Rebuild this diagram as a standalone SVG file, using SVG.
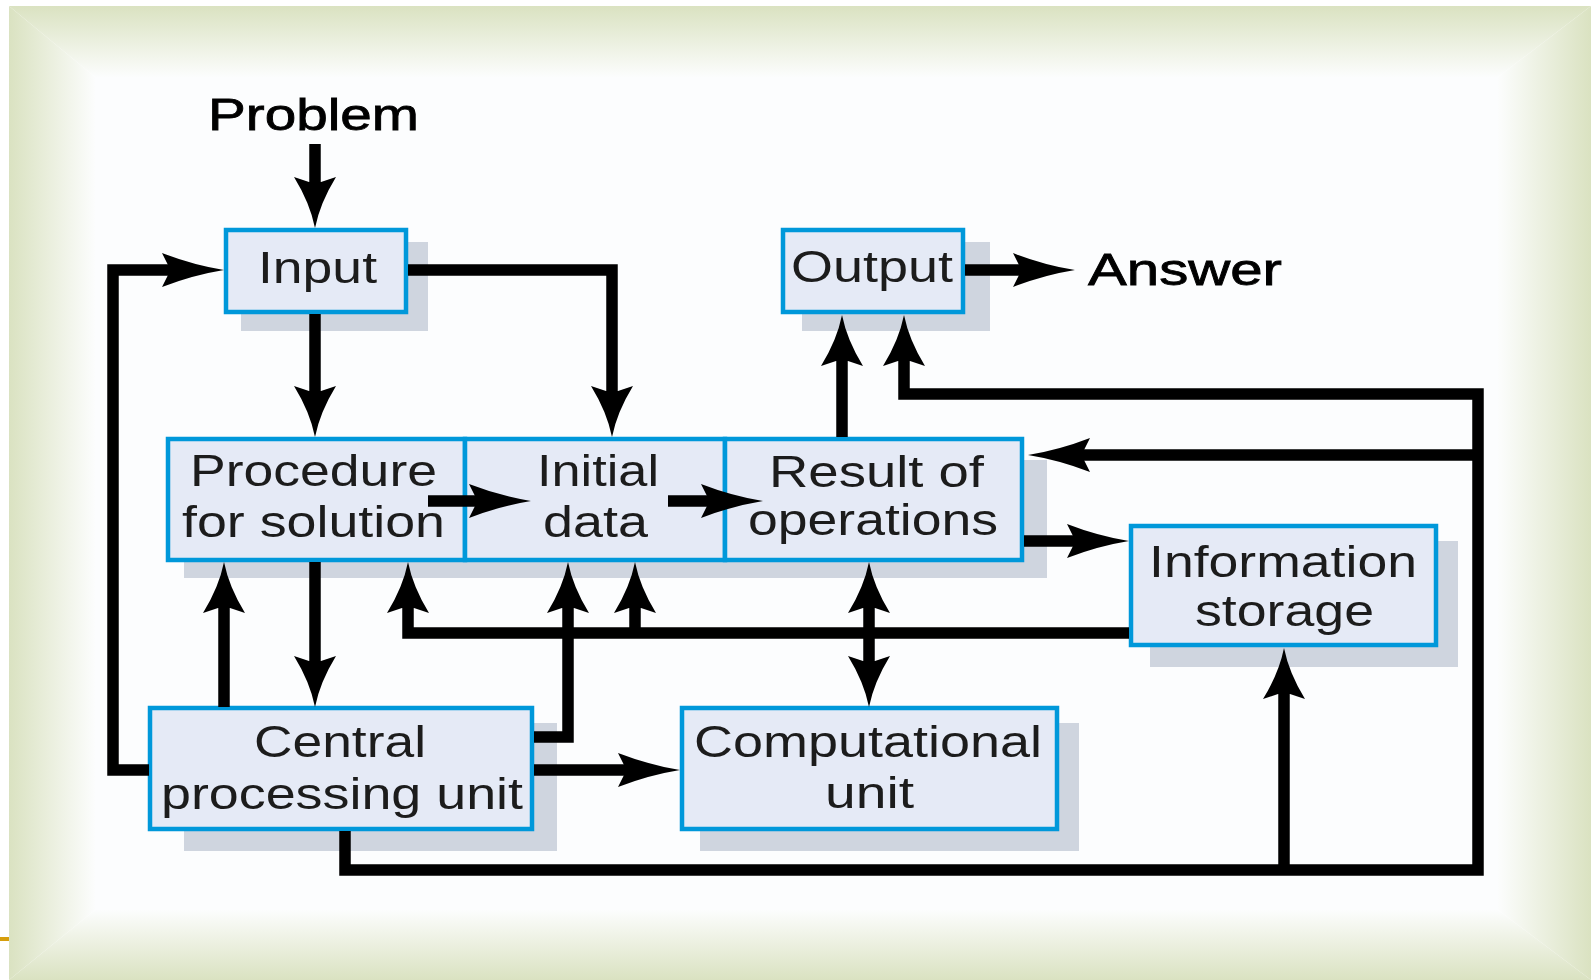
<svg xmlns="http://www.w3.org/2000/svg" width="1591" height="980" viewBox="0 0 1591 980">
<style>
.box{fill:#e5eaf6;stroke:#0098da;stroke-width:4.5}
.sh{fill:#cfd5df}
.t{font-family:"Liberation Sans",Arial,sans-serif;font-size:45px;fill:#1c1c1c}
.lbl{font-family:"Liberation Sans",Arial,sans-serif;font-size:45px;fill:#000;stroke:#000;stroke-width:0.8}
.c{fill:none;stroke:#000;stroke-width:11.5;stroke-linejoin:miter}
.v{marker-end:url(#av)}
.h{marker-end:url(#ah)}
</style>
<defs>
<marker id="av" markerUnits="userSpaceOnUse" markerWidth="60" markerHeight="50" refX="21" refY="0" orient="auto" overflow="visible">
<path d="M51,0 Q26,5 0,21 L5,6 L5,-6 L0,-21 Q26,-5 51,0 Z" fill="#000"/>
</marker>
<marker id="ah" markerUnits="userSpaceOnUse" markerWidth="70" markerHeight="40" refX="32" refY="0" orient="auto" overflow="visible">
<path d="M62,0 Q31,5 0,17 L6,5 L6,-5 L0,-17 Q31,-5 62,0 Z" fill="#000"/>
</marker>
<linearGradient id="gT" gradientUnits="userSpaceOnUse" x1="0" y1="6" x2="0" y2="77"><stop offset="0" stop-color="#dae2c1"/><stop offset="1" stop-color="#fcfdfd"/></linearGradient>
<linearGradient id="gB" gradientUnits="userSpaceOnUse" x1="0" y1="980" x2="0" y2="910"><stop offset="0" stop-color="#dae2c1"/><stop offset="1" stop-color="#fcfdfd"/></linearGradient>
<linearGradient id="gL" gradientUnits="userSpaceOnUse" x1="9" y1="0" x2="95" y2="0"><stop offset="0" stop-color="#dae2c1"/><stop offset="1" stop-color="#fcfdfd"/></linearGradient>
<linearGradient id="gR" gradientUnits="userSpaceOnUse" x1="1591" y1="0" x2="1498" y2="0"><stop offset="0" stop-color="#dae2c1"/><stop offset="1" stop-color="#fcfdfd"/></linearGradient>
</defs>
<g id="background">
<rect x="0" y="0" width="1591" height="980" fill="#ffffff"/>
<rect x="95" y="77" width="1403" height="833" fill="#fcfdfe"/>
<polygon points="9,6 1591,6 1498,77 95,77" fill="url(#gT)"/>
<polygon points="9,980 1591,980 1498,910 95,910" fill="url(#gB)"/>
<polygon points="9,6 95,77 95,910 9,980" fill="url(#gL)"/>
<polygon points="1591,6 1498,77 1498,910 1591,980" fill="url(#gR)"/>
<rect x="0" y="937" width="9" height="4" fill="#d69e0c"/>
</g>
<g id="problem"><text class="lbl" x="208" y="130" textLength="211" lengthAdjust="spacingAndGlyphs">Problem</text></g>
<g id="answer"><text class="lbl" x="1088" y="285" textLength="194" lengthAdjust="spacingAndGlyphs">Answer</text></g>
<g id="input">
<rect class="sh" x="241" y="242" width="187" height="89"/>
<rect class="box" x="226" y="230" width="180" height="82"/>
<text class="t" x="258" y="283" textLength="119" lengthAdjust="spacingAndGlyphs">Input</text>
</g>
<g id="output">
<rect class="sh" x="802" y="242" width="188" height="89"/>
<rect class="box" x="783" y="230" width="180" height="82"/>
<text class="t" x="791" y="282" textLength="162" lengthAdjust="spacingAndGlyphs">Output</text>
</g>
<g id="row-shadow"><rect class="sh" x="184" y="460" width="863" height="118"/></g>
<g id="procedure">
<rect class="box" x="168" y="439" width="297" height="121"/>
<text class="t" x="190" y="486" textLength="247" lengthAdjust="spacingAndGlyphs">Procedure</text>
<text class="t" x="182" y="537" textLength="263" lengthAdjust="spacingAndGlyphs">for solution</text>
</g>
<g id="initial-data">
<rect class="box" x="465" y="439" width="260" height="121"/>
<text class="t" x="537" y="486" textLength="122" lengthAdjust="spacingAndGlyphs">Initial</text>
<text class="t" x="543" y="537" textLength="105" lengthAdjust="spacingAndGlyphs">data</text>
</g>
<g id="result">
<rect class="box" x="725" y="439" width="297" height="121"/>
<text class="t" x="769" y="487" textLength="215" lengthAdjust="spacingAndGlyphs">Result of</text>
<text class="t" x="748" y="535" textLength="250" lengthAdjust="spacingAndGlyphs">operations</text>
</g>
<g id="information-storage">
<rect class="sh" x="1150" y="541" width="308" height="126"/>
<rect class="box" x="1131" y="526" width="305" height="119"/>
<text class="t" x="1149" y="577" textLength="268" lengthAdjust="spacingAndGlyphs">Information</text>
<text class="t" x="1195" y="626" textLength="179" lengthAdjust="spacingAndGlyphs">storage</text>
</g>
<g id="cpu">
<rect class="sh" x="184" y="723" width="373" height="128"/>
<rect class="box" x="150" y="708" width="382" height="121"/>
<text class="t" x="254" y="757" textLength="172" lengthAdjust="spacingAndGlyphs">Central</text>
<text class="t" x="161" y="809" textLength="362" lengthAdjust="spacingAndGlyphs">processing unit</text>
</g>
<g id="computational-unit">
<rect class="sh" x="700" y="723" width="379" height="128"/>
<rect class="box" x="682" y="708" width="375" height="121"/>
<text class="t" x="694" y="757" textLength="348" lengthAdjust="spacingAndGlyphs">Computational</text>
<text class="t" x="825" y="808" textLength="89" lengthAdjust="spacingAndGlyphs">unit</text>
</g>
<g id="connectors">
<path class="c v" d="M315,144 V198"/>
<path class="c v" d="M315,314 V407"/>
<path class="c v" d="M408,270 H612 V407"/>
<path class="c h" d="M149,770 H113 V270 H194"/>
<path class="c h" d="M965,270 H1045"/>
<path class="c v" d="M842,437 V345"/>
<path class="c v" d="M345,831 V870 H1478 V394 H904 V345"/>
<path class="c h" d="M1478,455 H1058"/>
<path class="c v" d="M1284,870 V678"/>
<path class="c h" d="M1024,541 H1099"/>
<path class="c h" d="M428,501 H501"/>
<path class="c h" d="M668,501 H733"/>
<path class="c v" d="M224,707 V592"/>
<path class="c v" d="M315,562 V677"/>
<path class="c v" d="M1129,633 H408 V592"/>
<path class="c v" d="M635,633 V592"/>
<path class="c v" d="M534,737 H568 V592"/>
<path class="c h" d="M534,770 H650"/>
<path class="c v" d="M869,633 V592"/>
<path class="c v" d="M869,633 V677"/>
</g>
</svg>
